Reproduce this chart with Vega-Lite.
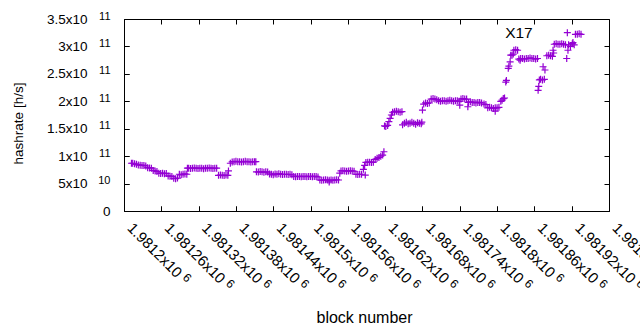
{
"$schema": "https://vega.github.io/schema/vega-lite/v6.json",
"width": 485, "height": 192,
"autosize": {"type": "none"},
"padding": {"left": 124, "top": 19, "right": 31, "bottom": 119},
"background": "white",
"config": {"view": {"stroke": "black", "strokeWidth": 1}, "font": "Liberation Sans",
 "axis": {"domain": false, "grid": false, "tickColor": "black", "tickSize": -5, "tickWidth": 1, "labelColor": "black", "titleColor": "black", "labelFont": "Liberation Sans", "titleFont": "Liberation Sans", "titleFontWeight": "normal", "labelOverlap": false, "labelBound": false, "labelFlush": false, "labelLimit": 300}},
"layer": [
 {"data": {"values": [
{"b":1981212,"h":8.7e10},{"b":1981214,"h":8.7e10},{"b":1981217,"h":8.6e10},{"b":1981220,"h":8.5e10},
{"b":1981223,"h":8.4e10},{"b":1981226,"h":8.35e10},{"b":1981229,"h":8.3e10},{"b":1981232,"h":8.3e10},{"b":1981235,"h":8.2e10},
{"b":1981238,"h":7.9e10},{"b":1981241,"h":7.85e10},{"b":1981244,"h":7.8e10},
{"b":1981247,"h":7.4e10},{"b":1981250,"h":7.3e10},{"b":1981253,"h":7.2e10},
{"b":1981256,"h":6.9e10},{"b":1981259,"h":6.85e10},{"b":1981262,"h":6.9e10},{"b":1981265,"h":6.8e10},{"b":1981268,"h":6.85e10},
{"b":1981271,"h":6.4e10},{"b":1981274,"h":6.35e10},{"b":1981277,"h":6.3e10},
{"b":1981280,"h":5.95e10},{"b":1981283,"h":5.9e10},{"b":1981286,"h":6.0e10},
{"b":1981289,"h":6.7e10},{"b":1981292,"h":6.6e10},{"b":1981295,"h":6.7e10},{"b":1981298,"h":6.75e10},{"b":1981301,"h":6.7e10},
{"b":1981302,"h":7.8e10},
{"b":1981304,"h":7.8e10},{"b":1981307,"h":7.75e10},{"b":1981310,"h":7.8e10},{"b":1981313,"h":7.85e10},{"b":1981316,"h":7.8e10},{"b":1981319,"h":7.75e10},{"b":1981322,"h":7.8e10},{"b":1981325,"h":7.8e10},{"b":1981328,"h":7.7e10},{"b":1981331,"h":7.8e10},{"b":1981334,"h":7.8e10},{"b":1981337,"h":7.85e10},{"b":1981340,"h":7.8e10},{"b":1981343,"h":7.75e10},{"b":1981346,"h":7.8e10},{"b":1981349,"h":7.8e10},
{"b":1981352,"h":6.5e10},{"b":1981355,"h":6.55e10},{"b":1981358,"h":6.5e10},{"b":1981361,"h":6.45e10},{"b":1981364,"h":6.55e10},{"b":1981367,"h":6.5e10},{"b":1981368,"h":7.3e10},
{"b":1981371,"h":8.7e10},{"b":1981374,"h":8.95e10},{"b":1981377,"h":9.0e10},{"b":1981380,"h":9.05e10},{"b":1981383,"h":9.0e10},{"b":1981386,"h":9.0e10},{"b":1981389,"h":8.95e10},{"b":1981392,"h":9.0e10},{"b":1981395,"h":9.05e10},{"b":1981398,"h":9.0e10},{"b":1981401,"h":9.0e10},{"b":1981404,"h":8.95e10},{"b":1981407,"h":9.0e10},{"b":1981410,"h":9.0e10},{"b":1981412,"h":9.0e10},
{"b":1981413,"h":7.15e10},{"b":1981416,"h":7.1e10},{"b":1981419,"h":7.2e10},{"b":1981422,"h":7.15e10},{"b":1981425,"h":7.05e10},{"b":1981428,"h":7.15e10},{"b":1981431,"h":7.1e10},
{"b":1981434,"h":6.75e10},{"b":1981437,"h":6.7e10},{"b":1981440,"h":6.6e10},{"b":1981443,"h":6.75e10},{"b":1981446,"h":6.7e10},{"b":1981449,"h":6.8e10},{"b":1981452,"h":6.7e10},{"b":1981455,"h":6.65e10},{"b":1981458,"h":6.7e10},{"b":1981461,"h":6.7e10},{"b":1981464,"h":6.65e10},{"b":1981467,"h":6.7e10},{"b":1981470,"h":6.6e10},
{"b":1981473,"h":6.3e10},{"b":1981476,"h":6.25e10},{"b":1981479,"h":6.3e10},{"b":1981482,"h":6.3e10},{"b":1981485,"h":6.25e10},{"b":1981488,"h":6.3e10},{"b":1981491,"h":6.3e10},{"b":1981494,"h":6.25e10},{"b":1981497,"h":6.3e10},{"b":1981500,"h":6.3e10},{"b":1981503,"h":6.25e10},{"b":1981506,"h":6.3e10},{"b":1981509,"h":6.3e10},{"b":1981512,"h":6.2e10},
{"b":1981515,"h":5.65e10},{"b":1981518,"h":5.6e10},{"b":1981521,"h":5.65e10},{"b":1981524,"h":5.7e10},{"b":1981527,"h":5.65e10},{"b":1981530,"h":5.3e10},{"b":1981530,"h":5.6e10},{"b":1981533,"h":5.65e10},{"b":1981536,"h":5.6e10},{"b":1981539,"h":5.65e10},{"b":1981542,"h":5.7e10},{"b":1981545,"h":5.65e10},
{"b":1981547,"h":6.9e10},
{"b":1981549,"h":7.3e10},{"b":1981552,"h":7.35e10},{"b":1981555,"h":7.3e10},{"b":1981558,"h":7.25e10},{"b":1981561,"h":7.3e10},{"b":1981564,"h":7.35e10},{"b":1981567,"h":7.3e10},{"b":1981570,"h":7.25e10},
{"b":1981573,"h":6.7e10},{"b":1981576,"h":6.65e10},{"b":1981579,"h":6.7e10},{"b":1981582,"h":6.7e10},{"b":1981588,"h":6.55e10},
{"b":1981585,"h":7.6e10},{"b":1981587,"h":8.3e10},
{"b":1981589,"h":8.85e10},{"b":1981592,"h":8.9e10},{"b":1981595,"h":8.9e10},{"b":1981598,"h":8.85e10},{"b":1981601,"h":8.9e10},
{"b":1981604,"h":9.4e10},{"b":1981607,"h":9.6e10},{"b":1981610,"h":9.75e10},{"b":1981613,"h":1.0e11},{"b":1981616,"h":1.02e11},{"b":1981618,"h":1.08e11},
{"b":1981619,"h":1.55e11},{"b":1981621,"h":1.54e11},{"b":1981624,"h":1.56e11},
{"b":1981626,"h":1.63e11},{"b":1981628,"h":1.69e11},{"b":1981630,"h":1.75e11},
{"b":1981632,"h":1.8e11},{"b":1981635,"h":1.81e11},{"b":1981638,"h":1.82e11},{"b":1981641,"h":1.81e11},{"b":1981644,"h":1.8e11},{"b":1981647,"h":1.81e11},
{"b":1981648,"h":1.57e11},{"b":1981651,"h":1.6e11},{"b":1981654,"h":1.62e11},{"b":1981657,"h":1.59e11},{"b":1981660,"h":1.6e11},{"b":1981663,"h":1.62e11},{"b":1981666,"h":1.6e11},{"b":1981669,"h":1.58e11},{"b":1981672,"h":1.61e11},{"b":1981675,"h":1.6e11},{"b":1981678,"h":1.59e11},{"b":1981679,"h":1.62e11},
{"b":1981680,"h":1.84e11},
{"b":1981682,"h":1.95e11},{"b":1981685,"h":1.97e11},{"b":1981688,"h":1.96e11},{"b":1981691,"h":1.97e11},
{"b":1981694,"h":2.04e11},{"b":1981697,"h":2.05e11},{"b":1981700,"h":2.04e11},{"b":1981703,"h":2.03e11},
{"b":1981706,"h":2.01e11},{"b":1981709,"h":2.0e11},{"b":1981712,"h":2.01e11},{"b":1981715,"h":2.01e11},{"b":1981718,"h":2.0e11},{"b":1981721,"h":2.01e11},{"b":1981724,"h":2.02e11},{"b":1981727,"h":2.01e11},{"b":1981730,"h":2.0e11},{"b":1981733,"h":2.01e11},{"b":1981736,"h":2.01e11},{"b":1981739,"h":2.0e11},{"b":1981740,"h":1.93e11},
{"b":1981742,"h":2.04e11},{"b":1981745,"h":2.05e11},{"b":1981748,"h":2.04e11},{"b":1981751,"h":2.04e11},
{"b":1981753,"h":1.9e11},{"b":1981754,"h":1.98e11},{"b":1981757,"h":1.99e11},{"b":1981760,"h":1.98e11},{"b":1981763,"h":1.98e11},{"b":1981766,"h":1.97e11},{"b":1981769,"h":1.98e11},{"b":1981772,"h":1.98e11},{"b":1981775,"h":1.97e11},
{"b":1981779,"h":1.95e11},{"b":1981782,"h":1.94e11},
{"b":1981785,"h":1.88e11},{"b":1981788,"h":1.89e11},{"b":1981791,"h":1.88e11},{"b":1981794,"h":1.87e11},{"b":1981797,"h":1.82e11},{"b":1981797,"h":1.88e11},{"b":1981800,"h":1.88e11},{"b":1981803,"h":1.89e11},
{"b":1981806,"h":2.0e11},{"b":1981808,"h":2.02e11},{"b":1981810,"h":2.05e11},{"b":1981812,"h":2.06e11},
{"b":1981814,"h":2.35e11},{"b":1981815,"h":2.38e11},{"b":1981818,"h":2.6e11},{"b":1981819,"h":2.64e11},{"b":1981821,"h":2.72e11},
{"b":1981822,"h":2.84e11},{"b":1981824,"h":2.84e11},{"b":1981826,"h":2.86e11},
{"b":1981827,"h":2.93e11},{"b":1981830,"h":2.94e11},{"b":1981833,"h":2.93e11},
{"b":1981835,"h":2.77e11},{"b":1981837,"h":2.75e11},{"b":1981838,"h":2.78e11},{"b":1981841,"h":2.78e11},{"b":1981844,"h":2.77e11},{"b":1981847,"h":2.78e11},{"b":1981850,"h":2.78e11},{"b":1981853,"h":2.79e11},{"b":1981856,"h":2.78e11},{"b":1981859,"h":2.78e11},{"b":1981862,"h":2.77e11},{"b":1981865,"h":2.78e11},
{"b":1981866,"h":2.2e11},{"b":1981867,"h":2.27e11},{"b":1981868,"h":2.39e11},
{"b":1981870,"h":2.4e11},{"b":1981873,"h":2.39e11},{"b":1981876,"h":2.4e11},
{"b":1981874,"h":2.63e11},{"b":1981877,"h":2.57e11},
{"b":1981880,"h":2.83e11},{"b":1981883,"h":2.84e11},{"b":1981886,"h":2.83e11},{"b":1981889,"h":2.82e11},
{"b":1981890,"h":2.93e11},{"b":1981891,"h":2.88e11},
{"b":1981892,"h":3.04e11},{"b":1981895,"h":3.05e11},{"b":1981898,"h":3.04e11},{"b":1981901,"h":3.04e11},{"b":1981904,"h":3.05e11},{"b":1981907,"h":3.04e11},{"b":1981910,"h":3.03e11},
{"b":1981912,"h":2.78e11},{"b":1981913,"h":3.25e11},{"b":1981914,"h":2.93e11},{"b":1981915,"h":3.03e11},{"b":1981918,"h":3.0e11},{"b":1981921,"h":3.05e11},{"b":1981922,"h":3.07e11},{"b":1981924,"h":3.03e11},
{"b":1981926,"h":3.22e11},{"b":1981929,"h":3.22e11},{"b":1981932,"h":3.23e11},{"b":1981935,"h":3.22e11}
 ]},
 "mark": {"type": "point", "shape": "M-1,0L1,0M0,-1L0,1", "filled": false, "size": 49, "strokeWidth": 1.2, "color": "#9400d3", "opacity": 1},
 "encoding": {
  "x": {"field": "b", "type": "quantitative", "scale": {"domain": [1981200, 1981980], "nice": false, "zero": false},
   "axis": {"orient": "bottom", "values": [1981200,1981260,1981320,1981380,1981440,1981500,1981560,1981620,1981680,1981740,1981800,1981860,1981920,1981980],
    "labelExpr": "format(datum.value/1e6, '.6~g') + 'x10'", "labelAngle": 45, "labelAlign": "left", "labelBaseline": "middle", "labelPadding": 19, "labelOffset": 5.5, "labelFontSize": 15,
    "title": "block number", "titleFontSize": 16, "titleX": 240, "titleY": 111, "titleBaseline": "alphabetic", "titleAlign": "center"}},
  "y": {"field": "h", "type": "quantitative", "scale": {"domain": [0, 3.5e11], "nice": false, "zero": true},
   "axis": {"orient": "left", "values": [0,5e10,1e11,1.5e11,2e11,2.5e11,3e11,3.5e11],
    "labelExpr": "datum.value == 0 ? '0' : (datum.value < 1e11 ? format(datum.value/1e10, '.3~g') + 'x10' : format(datum.value/1e11, '.3~g') + 'x10')",
    "labelPadding": {"condition": {"test": "datum.value == 0", "value": 19}, "value": 42}, "labelFontSize": 13.5,
    "title": "hashrate [h/s]", "titleFontSize": 13.5, "titleX": -106, "titleY": 104, "titleAngle": -90, "titleBaseline": "middle", "titleAlign": "center"}}
 }},
 {"data": {"values": [{"b": 1981813, "h": 3.15e11, "t": "X17"}]},
  "mark": {"type": "text", "align": "left", "baseline": "alphabetic", "fontSize": 15.5, "font": "Liberation Sans", "color": "black"},
  "encoding": {
   "x": {"field": "b", "type": "quantitative", "axis": {"orient": "top", "values": [1981200,1981260,1981320,1981380,1981440,1981500,1981560,1981620,1981680,1981740,1981800,1981860,1981920,1981980], "labels": false, "title": null}},
   "y": {"field": "h", "type": "quantitative", "axis": {"orient": "right", "values": [0,5e10,1e11,1.5e11,2e11,2.5e11,3e11,3.5e11], "labels": false, "title": null}},
   "text": {"field": "t"}
  }},
 {"data": {"values": [{"b": 1981200, "h": 0}]},
  "mark": {"type": "text", "text": "", "opacity": 0},
  "encoding": {
   "x": {"field": "b", "type": "quantitative", "axis": {"orient": "bottom", "values": [1981200,1981260,1981320,1981380,1981440,1981500,1981560,1981620,1981680,1981740,1981800,1981860,1981920,1981980],
     "labelExpr": "'6'", "labelAngle": 45, "labelAlign": "left", "labelBaseline": "middle", "labelFontSize": 12,
     "labelOffset": {"condition": {"test": "datum.value % 300 == 0", "value": 60.3}, "value": 66.2},
     "labelPadding": {"condition": {"test": "datum.value % 300 == 0", "value": 68.9}, "value": 74.8},
     "title": null}},
   "y": {"field": "h", "type": "quantitative", "axis": {"orient": "left", "values": [0,5e10,1e11,1.5e11,2e11,2.5e11,3e11,3.5e11],
     "labelExpr": "datum.value == 0 ? '' : (datum.value < 1e11 ? '10' : '11')", "labelFontSize": 11, "labelPadding": 19, "labelOffset": -3, "labelAlign": "right", "labelBaseline": "middle",
     "title": null}}
  }}
],
"resolve": {"axis": {"x": "independent", "y": "independent"}}
}
